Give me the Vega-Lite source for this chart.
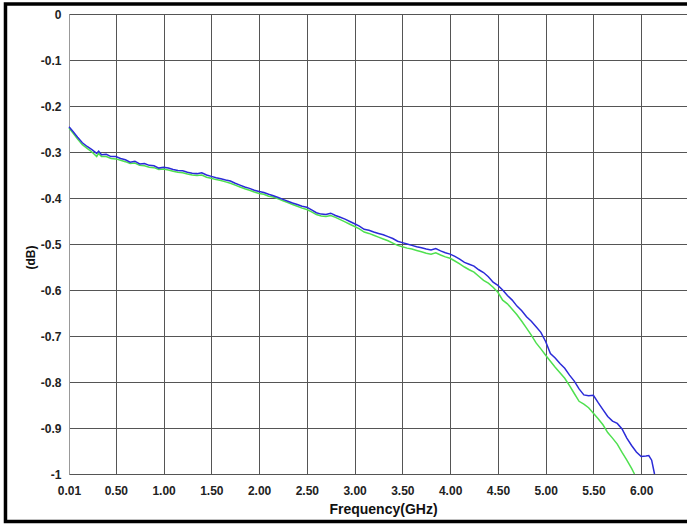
{
  "$schema": "https://vega.github.io/schema/vega-lite/v6.json",
  "autosize": {"type": "none"},
  "width": 618,
  "height": 460,
  "padding": {"left": 69, "top": 14, "right": 0, "bottom": 51},
  "background": "white",
  "config": {"view": {"stroke": null}, "font": "Liberation Sans"},
  "datasets": {
    "blue": [
      {"f":0.01,"v":-0.245},{"f":0.05,"v":-0.255},{"f":0.10,"v":-0.268},{"f":0.15,"v":-0.280},{"f":0.20,"v":-0.288},{"f":0.25,"v":-0.295},{"f":0.30,"v":-0.303},{"f":0.32,"v":-0.298},{"f":0.35,"v":-0.306},{"f":0.40,"v":-0.305},{"f":0.45,"v":-0.310},{"f":0.50,"v":-0.310},{"f":0.55,"v":-0.314},{"f":0.60,"v":-0.317},{"f":0.65,"v":-0.322},{"f":0.70,"v":-0.320},{"f":0.75,"v":-0.326},{"f":0.80,"v":-0.325},{"f":0.85,"v":-0.329},{"f":0.90,"v":-0.330},{"f":0.95,"v":-0.335},{"f":1.00,"v":-0.333},{"f":1.05,"v":-0.335},{"f":1.10,"v":-0.338},{"f":1.15,"v":-0.340},{"f":1.20,"v":-0.341},{"f":1.25,"v":-0.344},{"f":1.30,"v":-0.346},{"f":1.35,"v":-0.347},{"f":1.40,"v":-0.345},{"f":1.45,"v":-0.350},{"f":1.50,"v":-0.353},{"f":1.55,"v":-0.356},{"f":1.60,"v":-0.358},{"f":1.65,"v":-0.361},{"f":1.70,"v":-0.363},{"f":1.75,"v":-0.368},{"f":1.80,"v":-0.372},{"f":1.85,"v":-0.376},{"f":1.90,"v":-0.379},{"f":1.95,"v":-0.383},{"f":2.00,"v":-0.386},{"f":2.05,"v":-0.388},{"f":2.10,"v":-0.392},{"f":2.15,"v":-0.395},{"f":2.20,"v":-0.399},{"f":2.25,"v":-0.403},{"f":2.30,"v":-0.407},{"f":2.35,"v":-0.411},{"f":2.40,"v":-0.414},{"f":2.45,"v":-0.418},{"f":2.50,"v":-0.420},{"f":2.55,"v":-0.426},{"f":2.60,"v":-0.432},{"f":2.65,"v":-0.435},{"f":2.70,"v":-0.436},{"f":2.75,"v":-0.433},{"f":2.80,"v":-0.438},{"f":2.85,"v":-0.442},{"f":2.90,"v":-0.446},{"f":2.95,"v":-0.451},{"f":3.00,"v":-0.456},{"f":3.05,"v":-0.461},{"f":3.10,"v":-0.468},{"f":3.15,"v":-0.470},{"f":3.20,"v":-0.474},{"f":3.25,"v":-0.477},{"f":3.30,"v":-0.480},{"f":3.35,"v":-0.484},{"f":3.40,"v":-0.488},{"f":3.45,"v":-0.494},{"f":3.50,"v":-0.497},{"f":3.55,"v":-0.500},{"f":3.60,"v":-0.503},{"f":3.65,"v":-0.506},{"f":3.70,"v":-0.508},{"f":3.75,"v":-0.511},{"f":3.80,"v":-0.513},{"f":3.85,"v":-0.510},{"f":3.90,"v":-0.515},{"f":3.95,"v":-0.519},{"f":4.00,"v":-0.522},{"f":4.05,"v":-0.527},{"f":4.10,"v":-0.533},{"f":4.15,"v":-0.540},{"f":4.20,"v":-0.544},{"f":4.25,"v":-0.548},{"f":4.30,"v":-0.556},{"f":4.35,"v":-0.562},{"f":4.40,"v":-0.571},{"f":4.45,"v":-0.583},{"f":4.50,"v":-0.590},{"f":4.55,"v":-0.600},{"f":4.60,"v":-0.612},{"f":4.65,"v":-0.622},{"f":4.70,"v":-0.635},{"f":4.75,"v":-0.645},{"f":4.80,"v":-0.658},{"f":4.85,"v":-0.668},{"f":4.90,"v":-0.680},{"f":4.95,"v":-0.692},{"f":5.00,"v":-0.712},{"f":5.05,"v":-0.738},{"f":5.10,"v":-0.748},{"f":5.15,"v":-0.760},{"f":5.20,"v":-0.770},{"f":5.25,"v":-0.785},{"f":5.30,"v":-0.798},{"f":5.35,"v":-0.815},{"f":5.40,"v":-0.828},{"f":5.45,"v":-0.830},{"f":5.50,"v":-0.829},{"f":5.55,"v":-0.845},{"f":5.60,"v":-0.860},{"f":5.65,"v":-0.875},{"f":5.70,"v":-0.885},{"f":5.75,"v":-0.890},{"f":5.80,"v":-0.902},{"f":5.85,"v":-0.922},{"f":5.90,"v":-0.938},{"f":5.95,"v":-0.952},{"f":6.00,"v":-0.962},{"f":6.05,"v":-0.961},{"f":6.08,"v":-0.960},{"f":6.11,"v":-0.970},{"f":6.14,"v":-1.000}
    ],
    "green": [
      {"f":0.01,"v":-0.248},{"f":0.05,"v":-0.258},{"f":0.10,"v":-0.272},{"f":0.15,"v":-0.284},{"f":0.20,"v":-0.292},{"f":0.25,"v":-0.300},{"f":0.30,"v":-0.310},{"f":0.32,"v":-0.303},{"f":0.35,"v":-0.310},{"f":0.40,"v":-0.310},{"f":0.45,"v":-0.314},{"f":0.50,"v":-0.315},{"f":0.55,"v":-0.318},{"f":0.60,"v":-0.321},{"f":0.65,"v":-0.325},{"f":0.70,"v":-0.324},{"f":0.75,"v":-0.329},{"f":0.80,"v":-0.330},{"f":0.85,"v":-0.333},{"f":0.90,"v":-0.334},{"f":0.95,"v":-0.338},{"f":1.00,"v":-0.337},{"f":1.05,"v":-0.339},{"f":1.10,"v":-0.342},{"f":1.15,"v":-0.344},{"f":1.20,"v":-0.345},{"f":1.25,"v":-0.348},{"f":1.30,"v":-0.350},{"f":1.35,"v":-0.351},{"f":1.40,"v":-0.350},{"f":1.45,"v":-0.355},{"f":1.50,"v":-0.357},{"f":1.55,"v":-0.360},{"f":1.60,"v":-0.362},{"f":1.65,"v":-0.365},{"f":1.70,"v":-0.368},{"f":1.75,"v":-0.372},{"f":1.80,"v":-0.376},{"f":1.85,"v":-0.380},{"f":1.90,"v":-0.383},{"f":1.95,"v":-0.387},{"f":2.00,"v":-0.390},{"f":2.05,"v":-0.392},{"f":2.10,"v":-0.396},{"f":2.15,"v":-0.398},{"f":2.20,"v":-0.402},{"f":2.25,"v":-0.406},{"f":2.30,"v":-0.410},{"f":2.35,"v":-0.414},{"f":2.40,"v":-0.418},{"f":2.45,"v":-0.422},{"f":2.50,"v":-0.425},{"f":2.55,"v":-0.430},{"f":2.60,"v":-0.436},{"f":2.65,"v":-0.439},{"f":2.70,"v":-0.440},{"f":2.75,"v":-0.438},{"f":2.80,"v":-0.442},{"f":2.85,"v":-0.447},{"f":2.90,"v":-0.452},{"f":2.95,"v":-0.457},{"f":3.00,"v":-0.462},{"f":3.05,"v":-0.467},{"f":3.10,"v":-0.474},{"f":3.15,"v":-0.477},{"f":3.20,"v":-0.481},{"f":3.25,"v":-0.485},{"f":3.30,"v":-0.489},{"f":3.35,"v":-0.493},{"f":3.40,"v":-0.498},{"f":3.45,"v":-0.503},{"f":3.50,"v":-0.506},{"f":3.55,"v":-0.509},{"f":3.60,"v":-0.511},{"f":3.65,"v":-0.514},{"f":3.70,"v":-0.517},{"f":3.75,"v":-0.520},{"f":3.80,"v":-0.522},{"f":3.85,"v":-0.519},{"f":3.90,"v":-0.524},{"f":3.95,"v":-0.528},{"f":4.00,"v":-0.531},{"f":4.05,"v":-0.537},{"f":4.10,"v":-0.543},{"f":4.15,"v":-0.550},{"f":4.20,"v":-0.556},{"f":4.25,"v":-0.561},{"f":4.30,"v":-0.570},{"f":4.35,"v":-0.579},{"f":4.40,"v":-0.585},{"f":4.45,"v":-0.594},{"f":4.50,"v":-0.605},{"f":4.55,"v":-0.622},{"f":4.60,"v":-0.630},{"f":4.65,"v":-0.642},{"f":4.70,"v":-0.654},{"f":4.75,"v":-0.668},{"f":4.80,"v":-0.683},{"f":4.85,"v":-0.698},{"f":4.90,"v":-0.715},{"f":4.95,"v":-0.728},{"f":5.00,"v":-0.742},{"f":5.05,"v":-0.755},{"f":5.10,"v":-0.768},{"f":5.15,"v":-0.780},{"f":5.20,"v":-0.792},{"f":5.25,"v":-0.808},{"f":5.30,"v":-0.825},{"f":5.35,"v":-0.842},{"f":5.40,"v":-0.848},{"f":5.45,"v":-0.856},{"f":5.50,"v":-0.868},{"f":5.55,"v":-0.880},{"f":5.60,"v":-0.893},{"f":5.65,"v":-0.910},{"f":5.70,"v":-0.922},{"f":5.75,"v":-0.935},{"f":5.80,"v":-0.953},{"f":5.85,"v":-0.970},{"f":5.90,"v":-0.988},{"f":5.93,"v":-1.000}
    ]
  },
  "layer": [
    {
      "data": {"name": "green"},
      "mark": {"type": "line", "color": "#4fe04f", "strokeWidth": 1.5, "interpolate": "linear"},
      "encoding": {
        "x": {
          "field": "f", "type": "quantitative",
          "scale": {"domain": [0.01, 6.48], "nice": false, "zero": false},
          "axis": {
            "values": [0.01, 0.5, 1, 1.5, 2, 2.5, 3, 3.5, 4, 4.5, 5, 5.5, 6],
            "format": ".2f",
            "title": "Frequency(GHz)",
            "titleFontSize": 14, "titleFontWeight": "bold", "titleColor": "#111",
            "titlePadding": 6, "titleX": 314,
            "labelFontSize": 12, "labelFontWeight": "bold", "labelColor": "#222",
            "labelPadding": 11, "labelFlush": false, "labelOverlap": false,
            "ticks": false, "domain": false,
            "grid": true, "gridColor": "#555", "gridWidth": 1, "gridOpacity": 1
          }
        },
        "y": {
          "field": "v", "type": "quantitative",
          "scale": {"domain": [-1, 0], "nice": false, "zero": false},
          "axis": {
            "values": [0, -0.1, -0.2, -0.3, -0.4, -0.5, -0.6, -0.7, -0.8, -0.9, -1],
            "labelExpr": "datum.value == 0 ? '0' : (datum.value <= -0.999 ? '-1' : '-0.' + round(-datum.value * 10))",
            "title": "(dB)",
            "titleFontSize": 12, "titleFontWeight": "bold", "titleColor": "#111",
            "titleAngle": -90, "titleX": -32, "titleY": 243, "titleBaseline": "bottom", "titleAlign": "center",
            "labelFontSize": 12, "labelFontWeight": "bold", "labelColor": "#222",
            "labelPadding": 8, "labelOverlap": false,
            "ticks": false, "domain": true, "domainColor": "#999", "domainWidth": 1,
            "grid": true, "gridColor": "#555", "gridWidth": 1, "gridOpacity": 1
          }
        }
      }
    },
    {
      "data": {"name": "blue"},
      "mark": {"type": "line", "color": "#2b2bd8", "strokeWidth": 1.5},
      "encoding": {
        "x": {"field": "f", "type": "quantitative"},
        "y": {"field": "v", "type": "quantitative"}
      }
    },
    {
      "data": {"values": [{}]},
      "mark": {"type": "rect", "fill": null, "stroke": "black", "strokeWidth": 3.5, "clip": false},
      "encoding": {
        "x": {"datum": -0.655, "type": "quantitative"},
        "x2": {"datum": 7.5},
        "y": {"datum": 0.0217, "type": "quantitative"},
        "y2": {"datum": -1.1035}
      }
    }
  ]
}
